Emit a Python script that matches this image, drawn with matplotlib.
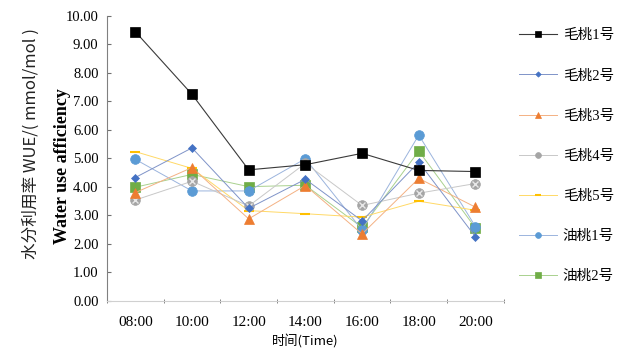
import matplotlib
matplotlib.use("Agg")
import matplotlib.pyplot as plt
import numpy as np

times = ["08:00", "10:00", "12:00", "14:00", "16:00", "18:00", "20:00"]
series_names = ["毛桃1号", "毛桃2号", "毛桃3号", "毛桃4号", "毛桃5号", "油桃1号", "油桃2号"]
maotao1 = [9.45, 7.25, 4.60, 4.78, 5.18, 4.58, 4.54]
maotao2 = [4.33, 5.37, 3.25, 4.27, 2.81, 4.87, 2.25]
maotao3 = [3.80, 4.68, 2.88, 4.05, 2.35, 4.30, 3.29]
maotao4 = [3.54, 4.20, 3.33, 4.83, 3.35, 3.78, 4.12]
maotao5 = [5.24, 4.65, 3.17, 3.06, 2.94, 3.50, 3.18]
youtao1 = [4.97, 3.86, 3.86, 4.99, 2.49, 5.82, 2.61]
youtao2 = [3.99, 4.44, 4.01, 4.06, 2.58, 5.26, 2.56]
yticks = [0, 1, 2, 3, 4, 5, 6, 7, 8, 9, 10]

data = [maotao1, maotao2, maotao3, maotao4, maotao5, youtao1, youtao2]
line_colors = ["#3a3a3a", "#7f93c8", "#f4b183", "#c8c8c8", "#ffd966", "#9bb4dd", "#a9d18e"]
mk_colors = ["#000000", "#4472c4", "#ed7d31", "#a5a5a5", "#ffc000", "#5b9bd5", "#70ad47"]
markers = ["s", "D", "^", "o", "_", "o", "s"]
msizes = [7, 4.5, 7, 7, 7, 7, 6.5]
lws = [0.8, 0.7, 0.7, 0.7, 0.7, 0.7, 0.7]

serif = ["Liberation Serif", "Noto Sans CJK SC"]
cjk = ["Noto Sans CJK SC", "Liberation Serif"]

fig = plt.figure(figsize=(6.29, 3.63), dpi=100)
ax = fig.add_axes([0.170, 0.171, 0.631, 0.785])
x = np.arange(len(times))
for i, (name, vals) in enumerate(zip(series_names, data)):
    z = 11 if i == 0 else 10 - i
    ax.plot(x, vals, color=line_colors[i], lw=lws[i], marker=markers[i],
            markersize=msizes[i], markerfacecolor=mk_colors[i],
            markeredgecolor=mk_colors[i],
            markeredgewidth=1.5 if markers[i] == "_" else 0.5, label=name,
            zorder=z)
    if i == 3:
        ax.plot(x, vals, ls="none", marker="x", markersize=4.5, color="#e8e8e8",
                markeredgewidth=1.0, zorder=z + 0.1, label="_nolegend_")

ax.set_xlim(-0.5, len(times) - 0.5)
ax.set_ylim(0, 10)
ax.set_yticks(yticks)
ax.set_yticklabels([f"{v:.2f}" for v in yticks], fontfamily=serif, fontsize=10.5)
ax.set_xticks(x)
ax.set_xticklabels(times, fontfamily=serif, fontsize=11)
ax.set_xticks(np.arange(-0.5, len(times)), minor=True)
ax.tick_params(axis="x", which="major", length=0, pad=11)
ax.tick_params(axis="x", which="minor", length=3, direction="inout", color="#707070")
ax.tick_params(axis="y", direction="in", length=3, color="#707070", pad=6)
for s in ["top", "right"]:
    ax.spines[s].set_visible(False)
ax.spines["left"].set_color("#808080")
ax.spines["bottom"].set_color("#d0d0d0")

ax.set_xlabel("时间(Time)", fontfamily=cjk, fontsize=9.5, labelpad=4)
fig.text(0.050, 0.605, "水分利用率 WUE/( mmol/mol )", rotation=90, fontfamily=cjk,
         fontsize=12, ha="center", va="center", color="#222222")
fig.text(0.099, 0.543, "Water use afficiency", rotation=90, fontfamily=serif,
         fontsize=13, fontweight="bold", ha="center", va="center")

leg = ax.legend(loc="upper left", bbox_to_anchor=(1.005, 1.0), frameon=False,
                prop={"family": serif, "size": 10.5}, labelspacing=1.85,
                handlelength=2.6, handletextpad=0.4, markerscale=0.6)

fig.savefig("out.png", dpi=100)
